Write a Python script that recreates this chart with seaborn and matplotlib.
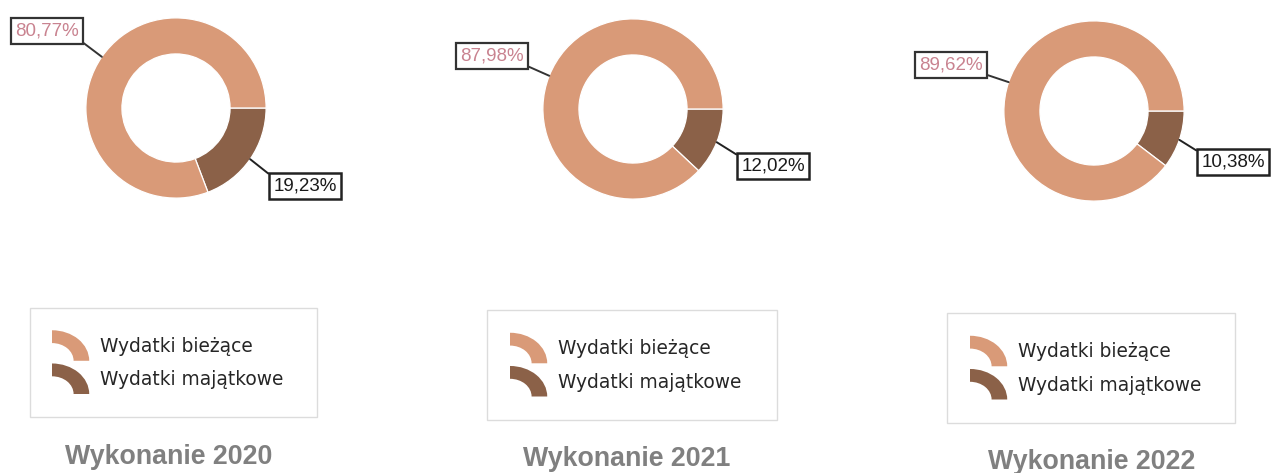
import matplotlib
matplotlib.use("Agg")
import matplotlib.pyplot as plt
from matplotlib.patches import Wedge, Rectangle, Patch
from matplotlib.legend_handler import HandlerBase
from matplotlib.transforms import Affine2D
import numpy as np
import seaborn as sns

# Budget structure: current vs. capital expenditure shares (%)
years = ["2020", "2021", "2022"]
titles = ["Wykonanie 2020", "Wykonanie 2021", "Wykonanie 2022"]
categories = ["Wydatki bieżące", "Wydatki majątkowe"]
biezace = [80.77, 87.98, 89.62]
majatkowe = [19.23, 12.02, 10.38]

sns.set_theme(style="white")
plt.rcParams["font.family"] = ["Liberation Sans", "DejaVu Sans"]

palette = sns.color_palette(["#d99a78", "#8b6148"])
c_cur, c_cap = palette[0], palette[1]

W, H = 1272, 473
fig = plt.figure(figsize=(W / 100, H / 100), dpi=100)
fig.patch.set_facecolor("white")


def fx(x):
    return x / W


def fy(y):
    return 1 - y / H


# layout (pixels, top-left origin)
centers = [(176, 108), (633, 109), (1094, 111)]
R = 91
cur_boxes = [(47, 31), (492, 56), (951, 65)]
cap_boxes = [(305, 186), (773, 166), (1233, 162)]
legend_frames = [(30, 308, 317, 417), (487, 310, 777, 420), (947, 313, 1235, 423)]
legend_left = [52, 510, 970]
title_pos = [(169, 457), (627, 459), (1092, 462)]


class ArcHandler(HandlerBase):
    """Legend key drawn as a quarter of a ring, like a piece of the donut."""

    def create_artists(self, legend, orig_handle, xdescent, ydescent,
                       width, height, fontsize, trans):
        w = Wedge((0, 0), 1.0, 0, 90, width=0.42,
                  facecolor=orig_handle.get_facecolor(), edgecolor="none")
        x0 = -xdescent
        arc_h = width * 0.82
        y0 = -ydescent + height / 2 - arc_h / 2
        w.set_transform(Affine2D().scale(width, arc_h).translate(x0, y0) + trans)
        return [w]


for i in range(3):
    cx, cy = centers[i]
    ax = fig.add_axes([fx(cx - R), fy(cy + R), 2 * R / W, 2 * R / H])
    vals = [majatkowe[i], biezace[i]]
    ax.pie(vals, colors=[c_cap, c_cur], startangle=0, counterclock=False,
           radius=1.0, wedgeprops=dict(width=0.4, edgecolor="white", linewidth=0.9))
    ax.set_xlim(-1.01, 1.01)
    ax.set_ylim(-1.01, 1.01)
    ax.set_aspect("equal")
    ax.axis("off")

    # label leaders from the middle of each slice
    cap_mid = np.deg2rad(-majatkowe[i] / 100 * 360 / 2)
    cur_mid = np.deg2rad(-(majatkowe[i] / 100 * 360 + 360) / 2)

    bx, by = cur_boxes[i]
    ax.annotate(f"{biezace[i]:.2f}%".replace(".", ","),
                xy=(np.cos(cur_mid), np.sin(cur_mid)), xycoords="data",
                xytext=(bx, H - by), textcoords="figure pixels",
                ha="center", va="center", fontsize=13.5, color="#c98390",
                bbox=dict(boxstyle="square,pad=0.22", fc="white", ec="#333333", lw=1.6),
                arrowprops=dict(arrowstyle="-", color="#333333", lw=1.4,
                                relpos=(1, 0), shrinkA=0, shrinkB=0),
                annotation_clip=False)

    bx, by = cap_boxes[i]
    ax.annotate(f"{majatkowe[i]:.2f}%".replace(".", ","),
                xy=(np.cos(cap_mid), np.sin(cap_mid)), xycoords="data",
                xytext=(bx, H - by), textcoords="figure pixels",
                ha="center", va="center", fontsize=13.5, color="#1a1a1a",
                bbox=dict(boxstyle="square,pad=0.22", fc="white", ec="#222222", lw=1.8),
                arrowprops=dict(arrowstyle="-", color="#222222", lw=1.4,
                                relpos=(0, 1), shrinkA=0, shrinkB=0),
                annotation_clip=False)

    # legend frame
    x0, y0, x1, y1 = legend_frames[i]
    fig.patches.append(Rectangle((fx(x0), fy(y1)), (x1 - x0) / W, (y1 - y0) / H,
                                 transform=fig.transFigure, fill=False,
                                 ec="#dcdcdc", lw=1.0))
    handles = [Patch(facecolor=c_cur), Patch(facecolor=c_cap)]
    fig.legend(handles, categories, handler_map={Patch: ArcHandler()},
               loc="center left",
               bbox_to_anchor=(fx(legend_left[i]), fy((y0 + y1) / 2)),
               frameon=False, borderpad=0, borderaxespad=0,
               handlelength=2.0, handleheight=1.2, handletextpad=0.6,
               labelspacing=0.72,
               prop=dict(family=["DejaVu Sans"], size=13.4))

    tx, ty = title_pos[i]
    fig.text(fx(tx), fy(ty), titles[i], ha="center", va="center",
             fontsize=19.3, fontweight="bold", color="#808080")

fig.savefig("out.png", dpi=100, facecolor="white")
